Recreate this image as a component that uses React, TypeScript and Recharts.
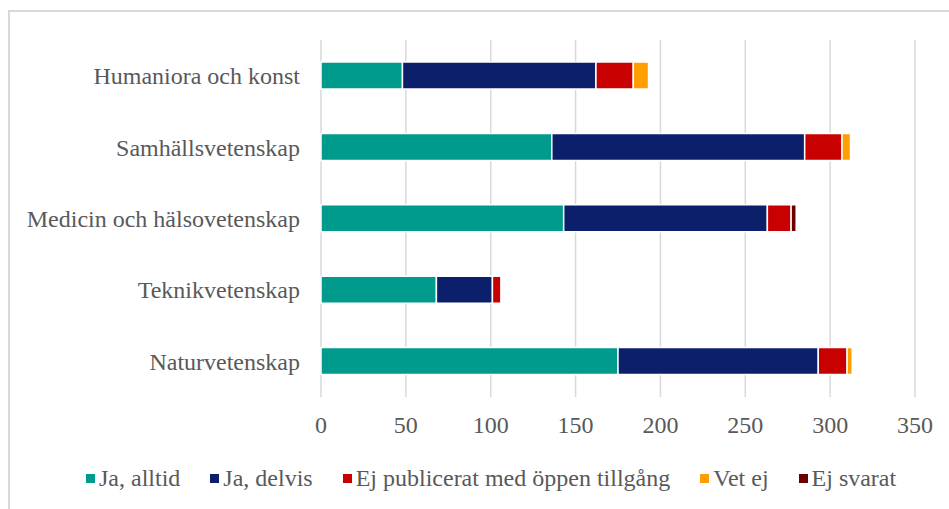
import { Bar, BarChart, CartesianGrid, XAxis, YAxis } from "recharts"

const categories = [
  "Humaniora och konst",
  "Samhällsvetenskap",
  "Medicin och hälsovetenskap",
  "Teknikvetenskap",
  "Naturvetenskap",
]
const jaAlltid = [48, 136, 143, 68, 175]
const jaDelvis = [114, 149, 120, 33, 118]
const ejPublicerat = [22, 22, 14, 5, 17]
const vetEj = [9, 5, 0, 0, 3]
const ejSvarat = [0, 0, 3, 0, 0]
const xTicks = [0, 50, 100, 150, 200, 250, 300, 350]

const SERIES = [
  { key: "Ja, alltid", values: jaAlltid, color: "#009B8D" },
  { key: "Ja, delvis", values: jaDelvis, color: "#0B1F6B" },
  { key: "Ej publicerat med öppen tillgång", values: ejPublicerat, color: "#C80000" },
  { key: "Vet ej", values: vetEj, color: "#FF9E00" },
  { key: "Ej svarat", values: ejSvarat, color: "#6B0000" },
]

const FONT = '"Liberation Serif", "Times New Roman", serif'
const TEXT = "#595959"

const data = categories.map((name, i) => {
  const row: Record<string, string | number> = { name }
  SERIES.forEach((s) => {
    row[s.key] = s.values[i]
  })
  return row
})

// legend kept outside the chart so it doesn't eat plot height
function LegendRow() {
  return (
    <div
      style={{
        position: "absolute",
        top: 464,
        left: 0,
        display: "flex",
        alignItems: "center",
        paddingLeft: 86,
        fontFamily: FONT,
        fontSize: 24,
        lineHeight: "28px",
        color: TEXT,
        whiteSpace: "nowrap",
      }}
    >
      {SERIES.map((s) => (
        <span key={s.key} style={{ display: "flex", alignItems: "center", marginRight: 30, fontFamily: FONT }}>
          <span style={{ width: 9, height: 9, background: s.color, marginRight: 4, display: "inline-block" }} />
          {s.key}
        </span>
      ))}
    </div>
  )
}

export default function App() {
  return (
    <div style={{ position: "absolute", left: 0, top: 0, width: 949, height: 509, overflow: "hidden", background: "#fff" }}>
      <div
        style={{
          position: "absolute",
          left: 8,
          top: 10,
          width: 1100,
          height: 700,
          border: "2px solid #d9d9d9",
          boxSizing: "border-box",
        }}
      />
      <div style={{ position: "absolute", left: 0, top: 0 }}>
        <BarChart
          width={949}
          height={509}
          data={data}
          layout="vertical"
          margin={{ top: 40, right: 34, bottom: 62, left: 0 }}
          style={{ fontFamily: FONT }}
        >
          <CartesianGrid horizontal={false} stroke="#d9d9d9" strokeWidth={1.5} />
          <XAxis
            type="number"
            domain={[0, 350]}
            ticks={xTicks}
            axisLine={false}
            tickLine={false}
            tickSize={0}
            tickMargin={19}
            height={50}
            tick={{ fill: TEXT, fontSize: 24, fontFamily: FONT }}
          />
          <YAxis
            type="category"
            dataKey="name"
            width={321}
            axisLine={false}
            tickLine={false}
            tickSize={0}
            tickMargin={21}
            tick={{ fill: TEXT, fontSize: 24, fontFamily: FONT }}
          />
          {SERIES.map((s) => (
            <Bar
              key={s.key}
              dataKey={s.key}
              stackId="a"
              fill={s.color}
              stroke="#fff"
              strokeWidth={1.5}
              barSize={27}
              isAnimationActive={false}
            />
          ))}
        </BarChart>
      </div>
      <LegendRow />
    </div>
  )
}
